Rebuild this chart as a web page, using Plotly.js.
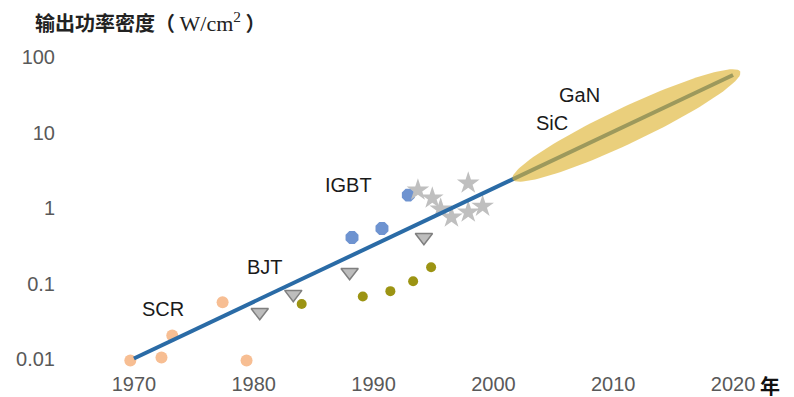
<!DOCTYPE html>
<html><head><meta charset="utf-8">
<script src="https://cdn.plot.ly/plotly-3.0.1.min.js"></script>
<style>html,body{margin:0;padding:0;background:#fff}#chart{width:794px;height:397px}</style>
</head><body><div id="chart"></div>
<script>
// ---- data ----
const yearTicks = [1970, 1980, 1990, 2000, 2010, 2020];
const yTickVals = [0.01, 0.1, 1, 10, 100];
const yTickText = ['0.01', '0.1', '1', '10', '100'];

const scrYears = [1969.7, 1972.3, 1973.2, 1977.4, 1979.4];
const scrValues = [0.0097, 0.0106, 0.0208, 0.057, 0.0097];
const bjtYears = [1980.5, 1983.3, 1988.0, 1994.2];
const bjtValues = [0.042, 0.073, 0.142, 0.413];
const oliveYears = [1984.0, 1989.1, 1991.4, 1993.3, 1994.8];
const oliveValues = [0.054, 0.068, 0.080, 0.108, 0.166];
const igbtYears = [1988.2, 1990.7, 1992.9];
const igbtValues = [0.41, 0.54, 1.49];
const starYears = [1993.7, 1994.9, 1995.6, 1996.5, 1997.9, 1997.9, 1999.1];
const starValues = [1.73, 1.36, 0.97, 0.76, 2.14, 0.885, 1.06];
const trendYears = [1970, 2020];
const trendValues = [0.0103, 57.8];
const wbgYears = [2001.6, 2020.6];   // SiC / GaN band along the trend
const labelText = ['SCR', 'BJT', 'IGBT', 'SiC', 'GaN'];
const labelYears = [1972.4, 1980.9, 1987.9, 2004.9, 2007.2];
const labelValues = [0.046, 0.166, 2.02, 13.4, 31.4];
const crossAt = 1;

// ---- layout geometry ----
const W = 794, H = 397;
const M = {l: 74, r: 1, t: 57, b: 30};
const xRange = [1965, 2025];
const yRangeLog = [-2.1, 2];
const plotW = W - M.l - M.r, plotH = H - M.t - M.b;
const sx = plotW / (xRange[1] - xRange[0]);
const sy = plotH / (yRangeLog[1] - yRangeLog[0]);

function trendLog(yr) {
  const l0 = Math.log10(trendValues[0]), l1 = Math.log10(trendValues[1]);
  return l0 + (l1 - l0) * (yr - trendYears[0]) / (trendYears[1] - trendYears[0]);
}
const semiMinorPx = 18;
const ex = [], ey = [];
(function () {
  const a0 = [wbgYears[0], trendLog(wbgYears[0])];
  const a1 = [wbgYears[1], trendLog(wbgYears[1])];
  const c = [(a0[0] + a1[0]) / 2, (a0[1] + a1[1]) / 2];
  const u = [(a1[0] - a0[0]) / 2, (a1[1] - a0[1]) / 2];
  const upx = [u[0] * sx, u[1] * sy];
  const len = Math.hypot(upx[0], upx[1]);
  const vpx = [-upx[1] / len * semiMinorPx, upx[0] / len * semiMinorPx];
  const v = [vpx[0] / sx, vpx[1] / sy];
  for (let i = 0; i <= 120; i++) {
    const t = 2 * Math.PI * i / 120;
    ex.push(c[0] + u[0] * Math.cos(t) + v[0] * Math.sin(t));
    ey.push(Math.pow(10, c[1] + u[1] * Math.cos(t) + v[1] * Math.sin(t)));
  }
})();

const traces = [
  {x: scrYears, y: scrValues, mode: 'markers', type: 'scatter', cliponaxis: false,
   marker: {symbol: 'circle', size: 12, color: '#F7BE93'}},
  {x: oliveYears, y: oliveValues, mode: 'markers', type: 'scatter', cliponaxis: false,
   marker: {symbol: 'circle', size: 10, color: '#9C9413'}},
  {x: bjtYears, y: bjtValues, mode: 'markers', type: 'scatter', cliponaxis: false,
   marker: {symbol: 'triangle-down', size: 15, color: '#BDBDBD', line: {color: '#7F7F7F', width: 1.5}}},
  {x: igbtYears, y: igbtValues, mode: 'markers', type: 'scatter', cliponaxis: false,
   marker: {symbol: 'octagon', size: 14, color: '#6E93D0'}},
  {x: starYears, y: starValues, mode: 'markers', type: 'scatter', cliponaxis: false,
   marker: {symbol: 'star', size: 17, color: '#BFBFBF'}},
  {x: trendYears, y: trendValues, mode: 'lines', type: 'scatter', cliponaxis: false,
   line: {color: '#2A6BA6', width: 4}},
  {x: ex, y: ey, mode: 'lines', type: 'scatter', fill: 'toself', cliponaxis: false,
   fillcolor: 'rgba(222,180,50,0.64)', line: {width: 0}}
];

const tickFont = {family: '"Liberation Sans Narrow", "Liberation Sans", Arial, sans-serif', size: 20, color: '#595959'};
const labFont = {family: '"Liberation Sans", Arial, sans-serif', size: 20, color: '#1a1a1a'};

const annotations = labelText.map((t, i) => ({
  x: labelYears[i], y: Math.log10(labelValues[i]), xref: 'x', yref: 'y',
  text: t, showarrow: false, font: labFont, xanchor: 'center', yanchor: 'middle'
}));
annotations.push({
  x: (770 - M.l) / plotW, y: (H - M.b - 385) / plotH, xref: 'paper', yref: 'paper',
  text: '年', showarrow: false, xanchor: 'center', yanchor: 'middle',
  font: {family: '"Noto Sans CJK SC", sans-serif', size: 20, color: '#111', weight: 'bold'}
});

const layout = {
  width: W, height: H, margin: M, showlegend: false,
  paper_bgcolor: '#fff', plot_bgcolor: '#fff',
  title: {
    text: '输出功率密度（ <span style="font-family:\'Liberation Serif\',serif;font-weight:normal;font-size:22px">W/cm<sup>2</sup></span> ）',
    xref: 'container', yref: 'container', x: 35 / W, xanchor: 'left', y: 1 - 24 / H, yanchor: 'middle',
    font: {family: '"Noto Sans CJK SC", sans-serif', size: 20, color: '#222', weight: 'bold'}
  },
  xaxis: {range: xRange, tickvals: yearTicks, ticktext: yearTicks.map(String),
    showgrid: false, zeroline: false, showline: false, ticks: '',
    tickfont: tickFont, ticklabelstandoff: 3, fixedrange: true},
  yaxis: {type: 'log', range: yRangeLog, tickvals: yTickVals, ticktext: yTickText,
    showgrid: false, zeroline: false, showline: false, ticks: '',
    tickfont: tickFont, ticklabelstandoff: 18, fixedrange: true},
  shapes: [{type: 'line', xref: 'paper', x0: 0, x1: 1, yref: 'y',
    y0: Math.log10(crossAt), y1: Math.log10(crossAt), line: {color: '#D9D9D9', width: 2}, layer: 'below'}],
  annotations: annotations
};

Plotly.newPlot('chart', traces, layout, {displayModeBar: false, staticPlot: true});
</script>
</body></html>
